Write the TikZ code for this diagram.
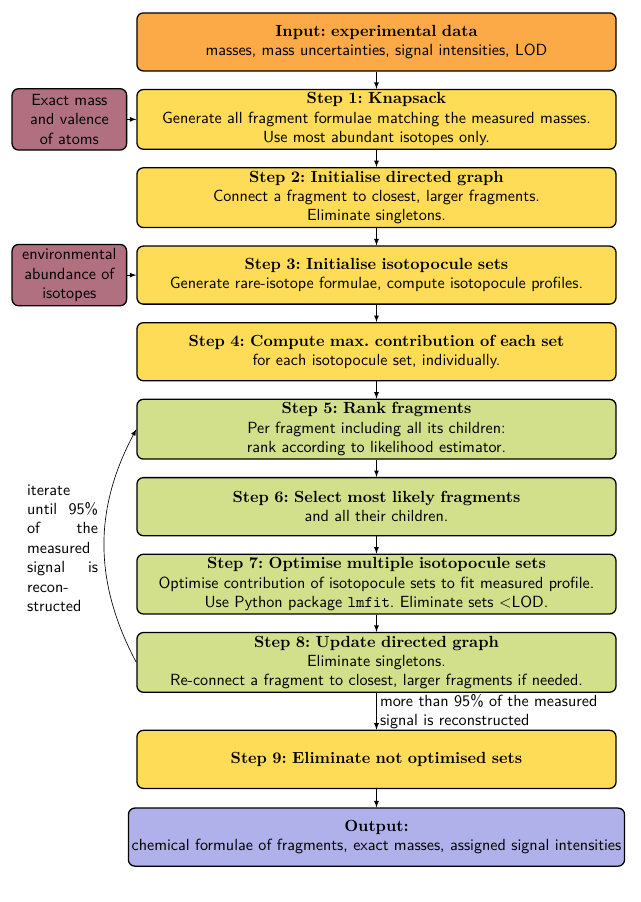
\documentclass[tikz,border=0pt]{standalone}
\usepackage{tikz}
\usetikzlibrary{positioning}
\usetikzlibrary{arrows,shapes}
\definecolor{inputcol}{RGB}{252,170,72}
\definecolor{stepcol}{RGB}{254,220,87}
\definecolor{loopcol}{RGB}{210,223,139}
\definecolor{sidecol}{RGB}{176,112,128}
\definecolor{outcol}{RGB}{176,176,234}
\newcommand{\boxtitle}[1]{{\rmfamily\bfseries #1}}

\begin{document}
\frenchspacing
\begin{tikzpicture}[node distance=10.7pt,every node/.style={font=\sffamily}]
\tikzset{
  box/.style={draw,thick,rounded corners=4pt,align=center,text width=293pt,minimum height=36pt,inner sep=2pt},
  inbox/.style={box,fill=inputcol},
  stepbox/.style={box,fill=stepcol},
  loopbox/.style={box,fill=loopcol},
  sidebox/.style={draw,thick,rounded corners=4pt,align=center,text width=67pt,minimum height=38pt,inner sep=2pt,fill=sidecol},
  outbox/.style={draw,thick,rounded corners=4pt,align=center,minimum width=297pt,minimum height=36pt,inner sep=2pt,fill=outcol}
}
\useasboundingbox (0,0) rectangle (396.8pt,-559.2pt);

\node[inbox] (in) at (233.4pt,-26pt) {\boxtitle{Input: experimental data}\\masses, mass uncertainties, signal intensities, LOD};
\node[stepbox] (s1) [below= of in] {\boxtitle{Step 1: Knapsack}\\Generate all fragment formulae matching the measured masses.\\Use most abundant isotopes only.};
\node[stepbox] (s2) [below= of s1] {\boxtitle{Step 2: Initialise directed graph}\\Connect a fragment to closest, larger fragments.\\Eliminate singletons.};
\node[stepbox] (s3) [below= of s2] {\boxtitle{Step 3: Initialise isotopocule sets}\\Generate rare-isotope formulae, compute isotopocule profiles.};
\node[stepbox] (s4) [below= of s3] {\boxtitle{Step 4: Compute max. contribution of each set}\\for each isotopocule set, individually.};
\node[loopbox] (s5) [below= of s4] {\boxtitle{Step 5: Rank fragments}\\Per fragment including all its children:\\rank according to likelihood estimator.};
\node[loopbox] (s6) [below= of s5] {\boxtitle{Step 6: Select most likely fragments}\\and all their children.};
\node[loopbox] (s7) [below= of s6] {\boxtitle{Step 7: Optimise multiple isotopocule sets}\\Optimise contribution of isotopocule sets to fit measured profile.\\Use Python package \texttt{lmfit}. Eliminate sets $<$LOD.};
\node[loopbox] (s8) [below= of s7] {\boxtitle{Step 8: Update directed graph}\\Eliminate singletons.\\Re-connect a fragment to closest, larger fragments if needed.};
\node[stepbox] (s9) [below= 22.8pt of s8] {\boxtitle{Step 9: Eliminate not optimised sets}};
\node[outbox] (out) [below= 11.4pt of s9] {\boxtitle{Output:}\\chemical formulae of fragments, exact masses, assigned signal intensities};

\node[sidebox] (mass) [left= 5.6pt of s1] {Exact mass\\and valence\\of atoms};
\node[sidebox] (abund) [left= 5.6pt of s3] {environmental\\abundance of\\isotopes};

\node[text width=44pt,align=justify,inner sep=0pt] (iter) at (38.8pt,-339.8pt) {iterate until 95\% of the measured signal is reconstructed};

\path[-latex]
        (in) edge (s1)
        (s1) edge (s2)
        (s2) edge (s3)
        (s3) edge (s4)
        (s4) edge (s5)
        (s5) edge (s6)
        (s6) edge (s7)
        (s7) edge (s8)
        (s9) edge (out)
        (mass) edge (s1)
        (abund) edge (s3);
\draw[-latex] (s8) -- node[right,text width=150pt,align=left,inner sep=2pt] (cond) {more than 95\% of the measured signal is reconstructed} (s9);
\draw[-latex] (s8.west) to[bend left=28] (s5.west);
\end{tikzpicture}
\end{document}
